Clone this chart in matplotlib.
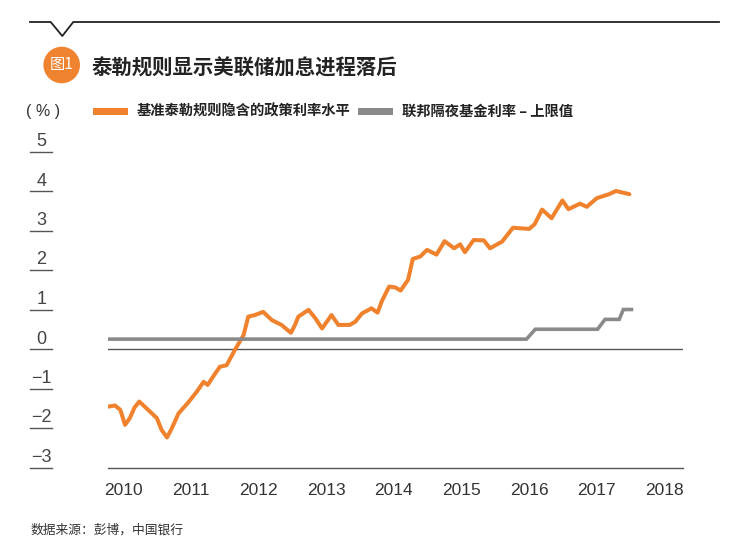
import matplotlib
matplotlib.use('Agg')
import matplotlib.pyplot as plt
from matplotlib.patches import Ellipse, Rectangle
from matplotlib.lines import Line2D
from matplotlib.transforms import blended_transform_factory

# Taylor rule implied policy rate (decimal year, %)
taylor_t = [2009.78, 2009.88, 2009.96, 2010.03, 2010.10, 2010.17, 2010.24, 2010.37,
            2010.50, 2010.57, 2010.65, 2010.72, 2010.82, 2010.96, 2011.09, 2011.19,
            2011.25, 2011.33, 2011.43, 2011.53, 2011.65, 2011.78, 2011.85, 2011.95,
            2012.07, 2012.20, 2012.34, 2012.48, 2012.54, 2012.59, 2012.74, 2012.84,
            2012.94, 2013.01, 2013.08, 2013.18, 2013.35, 2013.43, 2013.53, 2013.67,
            2013.76, 2013.82, 2013.93, 2014.02, 2014.10, 2014.21, 2014.28, 2014.39,
            2014.49, 2014.63, 2014.75, 2014.89, 2014.98, 2015.05, 2015.18, 2015.33,
            2015.42, 2015.60, 2015.76, 2016.00, 2016.08, 2016.19, 2016.33, 2016.49,
            2016.58, 2016.75, 2016.85, 2017.00, 2017.18, 2017.28, 2017.48]
taylor_v = [-1.46, -1.43, -1.54, -1.92, -1.75, -1.48, -1.33, -1.54,
            -1.75, -2.05, -2.24, -2.01, -1.63, -1.36, -1.08, -0.83,
            -0.91, -0.70, -0.45, -0.41, -0.03, 0.35, 0.82, 0.86,
            0.94, 0.73, 0.61, 0.41, 0.61, 0.82, 0.99, 0.78,
            0.52, 0.69, 0.86, 0.61, 0.61, 0.69, 0.90, 1.03,
            0.92, 1.20, 1.58, 1.56, 1.48, 1.75, 2.28, 2.34,
            2.51, 2.39, 2.73, 2.55, 2.65, 2.45, 2.76, 2.75,
            2.55, 2.72, 3.07, 3.04, 3.16, 3.53, 3.31, 3.76,
            3.54, 3.68, 3.60, 3.82, 3.92, 4.00, 3.92]

# Fed funds target, upper bound
fed_t = [2009.78, 2015.96, 2016.09, 2017.01, 2017.12, 2017.33, 2017.39, 2017.51]
fed_v = [0.25, 0.25, 0.50, 0.50, 0.75, 0.75, 1.00, 1.00]

years = [2010, 2011, 2012, 2013, 2014, 2015, 2016, 2017, 2018]
yticks = [5, 4, 3, 2, 1, 0, -1, -2, -3]

orange = '#F0822E'
grey = '#8A8A8A'
W, H = 744, 547
cjk = ['Noto Sans CJK SC', 'DejaVu Sans']

fig = plt.figure(figsize=(W / 100, H / 100), dpi=100)
ax = fig.add_axes([108 / W, 1 - 467.5 / H, 575.3 / W, 316 / H])

ax.plot(fed_t, fed_v, color=grey, lw=2.6, zorder=3, solid_joinstyle='miter')
ax.plot(taylor_t, taylor_v, color=orange, lw=2.9, zorder=2,
        solid_joinstyle='round', solid_capstyle='round')
ax.axhline(0, color='#555555', lw=1.0, zorder=1)

ax.set_xlim(2009.778, 2018.276)
ax.set_ylim(-3, 5)
for s in ['left', 'right', 'top']:
    ax.spines[s].set_visible(False)
ax.spines['bottom'].set_color('#555555')
ax.spines['bottom'].set_linewidth(1.0)

ax.set_xticks(years)
ax.set_xticklabels([str(y) for y in years], fontsize=12.5, color='#333333',
                   family='Liberation Sans')
ax.tick_params(axis='x', length=0, pad=11)
ax.set_yticks([])

# y labels sit above short underline ticks, left of the plot
tr = blended_transform_factory(fig.transFigure, ax.transData)
for v in yticks:
    ax.plot([30 / W, 52 / W], [v, v], color='#555555', lw=1.0,
            transform=tr, clip_on=False)
    lab = str(v) if v >= 0 else '\u2212' + str(-v)
    ax.text(41.5 / W, v + 10 / 39.5, lab, transform=tr, ha='center', va='center',
            fontsize=13, color='#444444', family='Liberation Sans')

# header rule with notch
xs = [30, 50.7, 62.3, 73.3, 719]
ys = [22, 22, 36, 22, 22]
fig.add_artist(Line2D([x / W for x in xs], [1 - y / H for y in ys],
                      color='#222222', lw=1.3, transform=fig.transFigure))

# badge and title
fig.add_artist(Ellipse((61.7 / W, 1 - 65 / H), 36.6 / W, 36.6 / H,
                       transform=fig.transFigure, color='#F0832F', lw=0))
fig.text(62 / W, 1 - 65 / H, '图1', color='white', fontsize=11,
         ha='center', va='center', family=cjk)
fig.text(91.7 / W, 1 - 68 / H, '泰勒规则显示美联储加息进程落后', fontsize=14.7,
         fontweight='heavy', color='#222222', ha='left', va='center', family=cjk)

# legend row
fig.text(26 / W, 1 - 111.7 / H, '( % )', fontsize=11.5, color='#333333',
         ha='left', va='center', family='Liberation Sans')
fig.add_artist(Rectangle((92.7 / W, 1 - 115.2 / H), 35.6 / W, 7 / H,
                         transform=fig.transFigure, color=orange, lw=0))
fig.text(136.7 / W, 1 - 111.7 / H, '基准泰勒规则隐含的政策利率水平', fontsize=10.3,
         fontweight='bold', color='#222222', ha='left', va='center', family=cjk)
fig.add_artist(Rectangle((358.3 / W, 1 - 115.2 / H), 34.7 / W, 7 / H,
                         transform=fig.transFigure, color=grey, lw=0))
fig.text(401.7 / W, 1 - 111.7 / H, '联邦隔夜基金利率 – 上限值', fontsize=10.3,
         fontweight='bold', color='#222222', ha='left', va='center', family=cjk)

fig.text(30.7 / W, 1 - 530 / H, '数据来源：彭博，中国银行', fontsize=9.2,
         color='#333333', ha='left', va='center', family=cjk)

plt.savefig('out.png', dpi=100)
